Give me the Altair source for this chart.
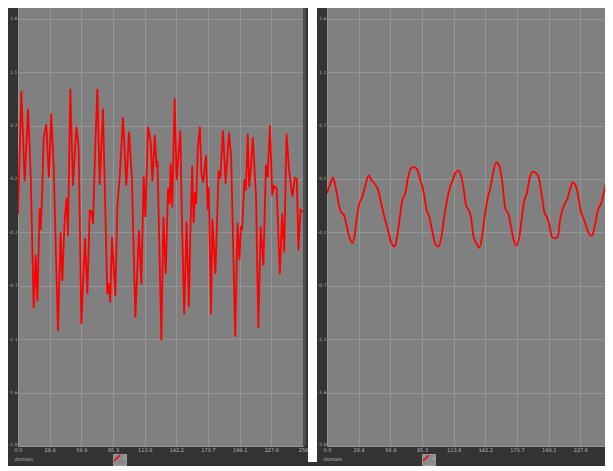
import altair as alt
import pandas as pd

# ---- data ----
series_name = ["x"]

left_x = [0.0, 3.0, 6.0, 9.0, 11.4, 14.1, 15.9, 17.4, 19.5, 20.4,
          21.6, 23.1, 25.4, 27.8, 29.9, 32.0, 35.9, 38.3, 39.8, 41.9,
          43.7, 44.9, 47.0, 49.4, 52.4, 54.5, 56.9, 60.2, 62.3, 64.4,
          65.9, 67.4, 69.5, 71.3, 73.4, 76.3, 80.2, 81.4, 82.9, 84.4,
          87.4, 89.2, 91.3, 94.3, 97.3, 99.7, 102.4, 105.4, 108.7, 110.8,
          112.9, 114.4, 116.8, 119.2, 120.7, 122.9, 124.4, 125.3, 128.8, 130.6,
          132.7, 134.8, 136.3, 137.1, 138.6, 140.7, 142.5, 145.8, 147.0, 149.3,
          151.4, 153.5, 154.7, 156.5, 157.7, 159.1, 160.0, 161.5, 163.3, 164.8,
          166.3, 168.9, 170.4, 171.3, 173.4, 174.6, 177.3, 180.2, 181.7, 184.1,
          186.5, 189.5, 191.5, 195.1, 197.2, 198.9, 200.2, 201.3, 203.4, 204.6,
          206.4, 207.6, 209.1, 210.9, 213.8, 215.9, 218.0, 220.4, 222.7, 224.2,
          226.3, 228.4, 229.9, 232.3, 235.2, 237.3, 239.1, 241.2, 243.5, 246.5,
          248.6, 250.4, 251.9, 253.7, 256.0]
left_y = [-0.05, 0.99, 0.23, 0.84, 0.29, -0.84, -0.39, -0.78, 0.00, -0.18,
          0.11, 0.60, 0.71, 0.26, 0.80, 0.37, -1.03, -0.20, -0.61, -0.10,
          0.09, -0.23, 1.01, 0.19, 0.69, 0.51, -0.97, -0.25, -0.72, -0.02,
          -0.02, -0.13, 0.55, 1.01, 0.20, 0.84, -0.72, -0.63, -0.79, -0.24,
          -0.74, 0.01, 0.26, 0.77, 0.19, 0.65, 0.23, -0.92, -0.18, -0.64,
          0.27, -0.07, 0.69, 0.56, 0.23, 0.62, 0.35, 0.40, -1.11, -0.07,
          -0.55, 0.17, 0.04, 0.38, 0.01, 0.93, 0.24, 0.66, 0.01, -0.89,
          -0.11, -0.83, -0.25, 0.36, -0.12, 0.14, 0.04, 0.51, 0.69, 0.29,
          0.22, 0.45, -0.01, 0.18, -0.89, -0.09, -0.55, 0.32, 0.25, 0.66,
          0.21, 0.64, 0.43, -1.08, -0.12, -0.43, -0.16, -0.17, 0.25, 0.15,
          0.63, 0.18, 0.33, 0.60, 0.10, -1.01, -0.15, -0.48, 0.37, 0.26,
          0.70, 0.11, 0.19, 0.17, -0.55, -0.04, -0.37, 0.63, 0.32, 0.10,
          0.26, 0.25, -0.35, -0.01, -0.03]

right_x = [0.0, 3.0, 5.4, 7.5, 9.9, 12.6, 15.0, 17.1, 19.5, 22.5,
           24.6, 26.9, 29.0, 31.4, 34.4, 37.4, 39.8, 42.8, 45.8, 48.8,
           51.8, 54.8, 57.8, 60.8, 62.9, 65.3, 67.4, 70.4, 72.8, 75.4,
           78.4, 80.8, 83.8, 86.8, 89.2, 91.9, 94.3, 97.3, 100.3, 102.7,
           105.7, 107.8, 110.8, 112.9, 115.3, 118.3, 120.6, 122.7, 124.8, 127.2,
           129.3, 131.7, 134.1, 136.8, 139.2, 141.6, 144.6, 146.7, 149.1, 152.1,
           154.8, 157.2, 160.2, 163.2, 165.6, 167.6, 170.0, 172.7, 175.1, 177.2,
           179.6, 182.0, 184.7, 187.7, 190.7, 193.1, 195.5, 197.6, 199.7, 202.1,
           204.2, 207.2, 209.6, 213.5, 216.2, 218.5, 220.9, 223.0, 225.4, 228.1,
           231.1, 233.5, 235.9, 238.0, 240.4, 243.4, 246.1, 248.5, 250.9, 253.0,
           255.4]
right_y = [0.13, 0.21, 0.26, 0.19, 0.07, -0.03, -0.05, -0.12, -0.22, -0.29,
           -0.24, -0.07, 0.04, 0.09, 0.19, 0.28, 0.24, 0.21, 0.16, 0.04,
           -0.08, -0.18, -0.29, -0.32, -0.24, -0.08, 0.06, 0.13, 0.26, 0.34,
           0.35, 0.33, 0.24, 0.14, 0.00, -0.07, -0.18, -0.30, -0.32, -0.24,
           -0.04, 0.07, 0.19, 0.24, 0.30, 0.32, 0.27, 0.17, 0.03, -0.01,
           -0.07, -0.24, -0.29, -0.33, -0.24, -0.07, 0.10, 0.17, 0.30, 0.39,
           0.36, 0.24, 0.00, -0.05, -0.17, -0.26, -0.31, -0.24, -0.07, 0.07,
           0.13, 0.26, 0.31, 0.30, 0.24, 0.10, -0.04, -0.07, -0.14, -0.24,
           -0.25, -0.24, -0.08, 0.04, 0.09, 0.17, 0.22, 0.20, 0.12, -0.03,
           -0.10, -0.17, -0.22, -0.23, -0.15, -0.01, 0.04, 0.13, 0.23, 0.25,
           0.19]

x_tick_values = [0, 28.44, 56.89, 85.33, 113.78, 142.22, 170.67, 199.11, 227.56, 256]
x_tick_labels = ["0.0", "28.4", "56.9", "85.3", "113.8", "142.2", "170.7", "199.1", "227.6", "256"]
y_tick_values = [-2.0, -1.55, -1.1, -0.65, -0.2, 0.25, 0.7, 1.15, 1.6]
y_tick_labels = ["-2.0", "-1.6", "-1.1", "-0.7", "-0.2", "0.2", "0.7", "1.1", "1.6"]

# ---- layout / style ----
H = 438
W_LEFT = 285
W_RIGHT = 278
Y_DOMAIN = [-2.0, 1.69]
X_DOMAIN_LEFT = [0, 256]
X_DOMAIN_RIGHT = [0, 249.7]

FRAME = "#333333"
PLOT_BG = "#808080"
GRID = "#959595"
LABEL = "#b8b8b8"
RED = "#ff0000"
FONT = "DejaVu Sans"


def label_expr(values, labels):
    # nested conditional mapping each tick value to its label text
    expr = "''"
    for v, t in reversed(list(zip(values, labels))):
        expr = f"abs(datum.value - ({v})) < 0.01 ? '{t}' : ({expr})"
    return expr


def x_axis(domain_max):
    pairs = [(v, t) for v, t in zip(x_tick_values, x_tick_labels) if v <= domain_max + 0.01]
    vals = [p[0] for p in pairs]
    return alt.Axis(
        values=vals,
        labelExpr=label_expr(vals, [p[1] for p in pairs]),
        labelFontSize=5, labelColor=LABEL, labelPadding=1, labelFlush=False,
        labelOverlap=False, ticks=False, domain=False,
        grid=True, gridColor=GRID, gridWidth=1,
        title="domain", titleFontSize=5, titleColor=LABEL, titleFontWeight="normal",
        titleX=-4, titleY=12, titleAlign="left", titleBaseline="middle",
    )


def y_axis():
    return alt.Axis(
        values=y_tick_values, labelExpr=label_expr(y_tick_values, y_tick_labels),
        labelFontSize=4.5, labelColor=LABEL, labelPadding=1, labelOverlap=False,
        labelFlush=True,
        ticks=False, domain=False, grid=True, gridColor=GRID, gridWidth=1,
        title=None, minExtent=10, maxExtent=10,
    )


def legend():
    return alt.Legend(
        orient="none", legendX=95, legendY=H + 8, title=None,
        symbolType="M-1,1L1,-1", symbolSize=36, symbolStrokeWidth=1.6,
        symbolFillColor="transparent",
        labelFontSize=5, labelColor=LABEL, labelOffset=2,
        padding=0, fillColor="#8a8a8a", strokeColor="#9c9c9c",
    )


def panel(xs, ys, width, xdom, interp):
    df = pd.DataFrame({"x": xs, "y": ys, "series": series_name[0]})
    return alt.Chart(df).mark_line(strokeWidth=1.8, clip=True,
                                   interpolate=interp).encode(
        x=alt.X("x:Q", scale=alt.Scale(domain=xdom, nice=False, zero=False),
                axis=x_axis(xdom[1])),
        y=alt.Y("y:Q", scale=alt.Scale(domain=Y_DOMAIN, nice=False, zero=False),
                axis=y_axis()),
        color=alt.Color("series:N", scale=alt.Scale(domain=series_name, range=[RED]),
                        legend=legend()),
    ).properties(width=width, height=H)


decor = pd.DataFrame({"k": [0]})
edge = alt.Chart(decor).mark_rect(color="#4d4d4d").encode(
    x=alt.value(W_LEFT), x2=alt.value(W_LEFT + 3), y=alt.value(0), y2=alt.value(H))
gap = alt.Chart(decor).mark_rect(color="white").encode(
    x=alt.value(W_LEFT + 5), x2=alt.value(W_LEFT + 14), y=alt.value(0), y2=alt.value(H + 16))

left = alt.layer(panel(left_x, left_y, W_LEFT, X_DOMAIN_LEFT, "linear"), edge, gap).properties(
    width=W_LEFT, height=H)
right = panel(right_x, right_y, W_RIGHT, X_DOMAIN_RIGHT, "monotone")

chart = alt.hconcat(left, right, spacing=0).resolve_scale(
    x="independent", y="independent", color="independent"
).resolve_legend(color="independent").properties(
    padding={"left": 0, "top": 0, "right": 0, "bottom": 0}, background=FRAME
).configure(font=FONT).configure_view(fill=PLOT_BG, strokeWidth=0)

chart.save("out.html", embed_options={"renderer": "svg", "actions": False})
